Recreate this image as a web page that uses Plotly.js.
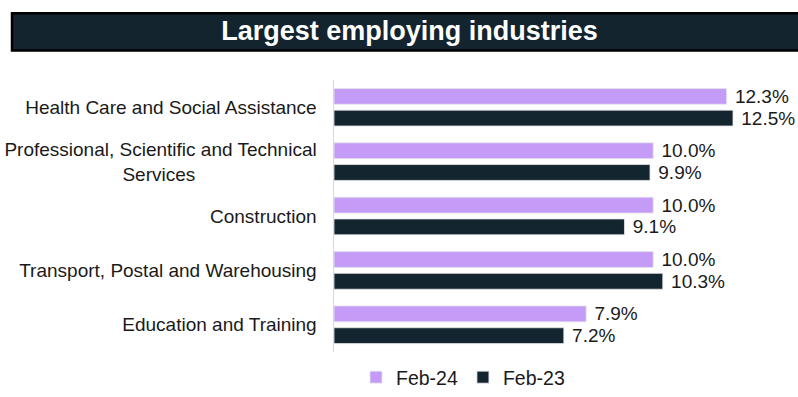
<!DOCTYPE html>
<html>
<head>
<meta charset="utf-8">
<script src="https://cdn.plot.ly/plotly-3.0.1.min.js"></script>
<style>html,body{margin:0;padding:0;background:#fff;}#chart{width:798px;height:397px;}</style>
</head>
<body>
<div id="chart"></div>
<script>
var categories = [
  "Health Care and Social Assistance",
  "Professional, Scientific and Technical<br>Services" + "\u00a0".repeat(23),
  "Construction",
  "Transport, Postal and Warehousing",
  "Education and Training"
];
var seriesNames = ["Feb-24", "Feb-23"];
var feb24 = [12.3, 10.0, 10.0, 10.0, 7.9];
var feb23 = [12.5, 9.9, 9.1, 10.3, 7.2];
var colors = ["#c49bf7", "#13252f"];

var FONT = "Liberation Sans, Arial, Helvetica, sans-serif";
var pad = "\u00a0";

function mk(name, vals, color) {
  return {
    type: "bar", orientation: "h", name: name,
    y: categories, x: vals,
    marker: {color: color, line: {color: "rgba(230,230,235,0.8)", width: 1}},
    text: vals.map(function(v){ return pad + v.toFixed(1) + "%"; }),
    textposition: "outside", cliponaxis: false, constraintext: "none",
    textfont: {family: FONT, size: 19, color: "#1a1a1a"},
    hoverinfo: "skip"
  };
}

var data = [mk(seriesNames[0], feb24, colors[0]), mk(seriesNames[1], feb23, colors[1])];

var layout = {
  width: 798, height: 397,
  margin: {l: 334, r: 0, t: 80, b: 40},
  paper_bgcolor: "#fff", plot_bgcolor: "#fff",
  font: {family: FONT, size: 19.5, color: "#1a1a1a"},
  barmode: "group", bargap: 0.2, bargroupgap: 0.27,
  title: {
    text: "Largest employing industries",
    font: {family: FONT, size: 27, color: "#ffffff", weight: "bold"},
    x: 409.5/798, xanchor: "center", xref: "container",
    y: 1 - 31/397, yanchor: "middle", yref: "container"
  },
  shapes: [{
    type: "rect", xref: "paper", yref: "paper",
    x0: (12-334)/464, x1: 1.05, y0: (357-50)/277, y1: (357-12)/277,
    fillcolor: "#13242f", line: {color: "#000", width: 2.5}, layer: "below"
  }],
  xaxis: {
    range: [0, 464/31.92], showgrid: false, zeroline: false,
    showticklabels: false, showline: false, ticks: "", fixedrange: true
  },
  yaxis: {
    type: "category", range: [4.5, -0.5], showgrid: false, zeroline: false,
    showline: true, linecolor: "#d9d9d9", linewidth: 1.5,
    ticks: "", ticklabelstandoff: 12,
    tickfont: {family: FONT, size: 19, color: "#1a1a1a"}
  },
  showlegend: true,
  legend: {
    orientation: "h", x: (356-334)/464, xanchor: "left",
    y: (357-383)/277, yanchor: "middle",
    font: {family: FONT, size: 19.5, color: "#1a1a1a"},
    bgcolor: "rgba(0,0,0,0)", itemclick: false, itemdoubleclick: false
  }
};

Plotly.newPlot("chart", data, layout, {displayModeBar: false, staticPlot: true});
</script>
</body>
</html>
